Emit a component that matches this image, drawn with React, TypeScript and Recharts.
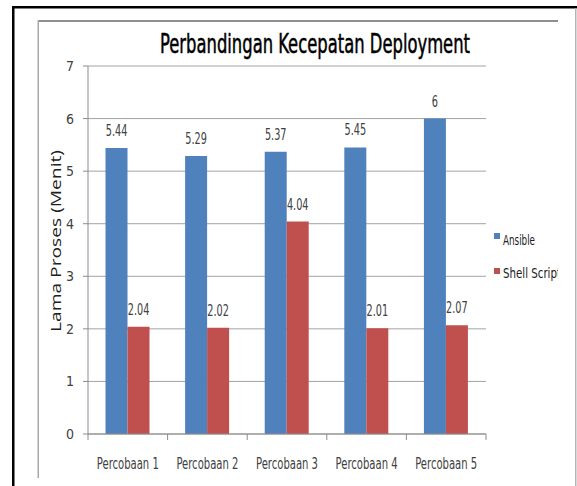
import React from 'react';
import { BarChart, Bar, XAxis, YAxis, CartesianGrid, LabelList, Legend, Label } from 'recharts';

const categories = ['Percobaan 1', 'Percobaan 2', 'Percobaan 3', 'Percobaan 4', 'Percobaan 5'];
const ansibleValues = [5.44, 5.29, 5.37, 5.45, 6];
const shellScriptValues = [2.04, 2.02, 4.04, 2.01, 2.07];
const yTicks = [0, 1, 2, 3, 4, 5, 6, 7];
const seriesNames = ['Ansible', 'Shell Script'];
const seriesColors = ['#4F81BD', '#C0504D'];
const chartTitle = 'Perbandingan Kecepatan Deployment';
const yAxisTitle = 'Lama Proses (Menit)';

const data = categories.map((name, i) => ({
  name,
  ansible: ansibleValues[i],
  shell: shellScriptValues[i],
}));

const NARROW = "'Liberation Sans Narrow', 'DejaVu Sans Condensed', 'Liberation Sans', sans-serif";
const TEXT = '#404040';
const AXIS = '#8c8c8c';
const GRID = '#a3a3a3';

const labelWidth = (s: string) => {
  let w = 0;
  for (const ch of s) w += ch === '.' ? 3 : 6.2;
  return w;
};

const ValueLabel = (props: any) => {
  const { x, y, width, value } = props;
  const s = String(value);
  return (
    <text
      x={Number(x) + Number(width) / 2}
      y={Number(y) - 12}
      textAnchor="middle"
      fontSize={15}
      fill={TEXT}
      fontFamily={NARROW}
      textLength={labelWidth(s)}
      lengthAdjust="spacingAndGlyphs"
    >
      {s}
    </text>
  );
};

const CategoryTick = (props: any) => {
  const { x, y, payload, index, visibleTicksCount, width } = props;
  const half = payload && payload.offset > 0 ? payload.offset : Number(width) / visibleTicksCount / 2;
  return (
    <g>
      <line x1={x - half} x2={x - half} y1={y} y2={y + 6} stroke={AXIS} />
      {index === visibleTicksCount - 1 && <line x1={x + half} x2={x + half} y1={y} y2={y + 6} stroke={AXIS} />}
      <text
        x={x}
        y={y + 35}
        textAnchor="middle"
        fontSize={15}
        fill={TEXT}
        fontFamily={NARROW}
        textLength={62}
        lengthAdjust="spacingAndGlyphs"
      >
        {payload.value}
      </text>
    </g>
  );
};

const YTitle = (props: any) => {
  const vb = props.viewBox || { x: 0, y: 66, width: 88, height: 368 };
  const cx = vb.x + 55;
  const cy = vb.y + vb.height / 2 - 9;
  return (
    <text
      x={cx}
      y={cy}
      transform={`rotate(-90, ${cx}, ${cy})`}
      textAnchor="middle"
      dominantBaseline="central"
      fontSize={14}
      fill="#202020"
      fontFamily="'Open Sans', 'DejaVu Sans', sans-serif"
      textLength={182}
      lengthAdjust="spacingAndGlyphs"
    >
      {yAxisTitle}
    </text>
  );
};

const LegendContent = (props: any) => {
  const payload = props.payload || [];
  return (
    <svg width={64} height={60} style={{ display: 'block', overflow: 'hidden' }}>
      {payload.map((p: any, i: number) => (
        <g key={i}>
          <rect x={0} y={5 + i * 35} width={6} height={6} fill={p.color} />
          <text
            x={9}
            y={17 + i * 33}
            fontSize={14}
            fill="#202020"
            fontFamily={NARROW}
            textLength={i === 0 ? 32 : 58}
            lengthAdjust="spacingAndGlyphs"
          >
            {p.value}
          </text>
        </g>
      ))}
    </svg>
  );
};

export default function App() {
  return (
    <div style={{ position: 'absolute', left: 0, top: 0, width: 577, height: 486, background: '#fff', overflow: 'hidden' }}>
      <svg width={577} height={486} style={{ position: 'absolute', left: 0, top: 0 }}>
        <rect x={12} y={6} width={565} height={2.5} fill="#000" />
        <rect x={12} y={6} width={2.5} height={480} fill="#000" />
        <rect x={575} y={8} width={1.5} height={478} fill="#b4b4b4" />
        <rect x={38} y={20} width={520} height={2} fill="#8f8f8f" />
        <rect x={37.5} y={20} width={1.5} height={458} fill="#a8a8a8" />
        <text
          x={160}
          y={53}
          fontSize={26}
          fill="#000"
          stroke="#000"
          strokeWidth={0.5}
          fontFamily={NARROW}
          textLength={310}
          lengthAdjust="spacingAndGlyphs"
        >
          {chartTitle}
        </text>
      </svg>
      <div style={{ position: 'absolute', left: 0, top: 0 }}>
        <BarChart
          width={577}
          height={486}
          data={data}
          margin={{ top: 66, right: 91, left: 0, bottom: 22 }}
          barCategoryGap="22%"
          barGap={0}
        >
          <CartesianGrid vertical={false} stroke={GRID} />
          <XAxis
            dataKey="name"
            height={30}
            axisLine={{ stroke: AXIS }}
            tickLine={false}
            tickSize={0}
            tickMargin={0}
            interval={0}
            tick={<CategoryTick />}
          />
          <YAxis
            type="number"
            domain={[0, 7]}
            ticks={yTicks}
            interval={0}
            width={88}
            axisLine={{ stroke: AXIS }}
            tickLine={{ stroke: AXIS }}
            tickSize={5}
            tickMargin={9}
            tick={{ fontSize: 14, fill: TEXT, fontFamily: NARROW }}
          >
            <Label content={<YTitle />} />
          </YAxis>
          <Legend
            layout="vertical"
            align="center"
            verticalAlign="middle"
            wrapperStyle={{ left: 494, top: 228, width: 64, height: 60 }}
            content={<LegendContent />}
          />
          <Bar dataKey="ansible" name={seriesNames[0]} fill={seriesColors[0]} isAnimationActive={false}>
            <LabelList dataKey="ansible" content={<ValueLabel />} />
          </Bar>
          <Bar dataKey="shell" name={seriesNames[1]} fill={seriesColors[1]} isAnimationActive={false}>
            <LabelList dataKey="shell" content={<ValueLabel />} />
          </Bar>
        </BarChart>
      </div>
    </div>
  );
}
